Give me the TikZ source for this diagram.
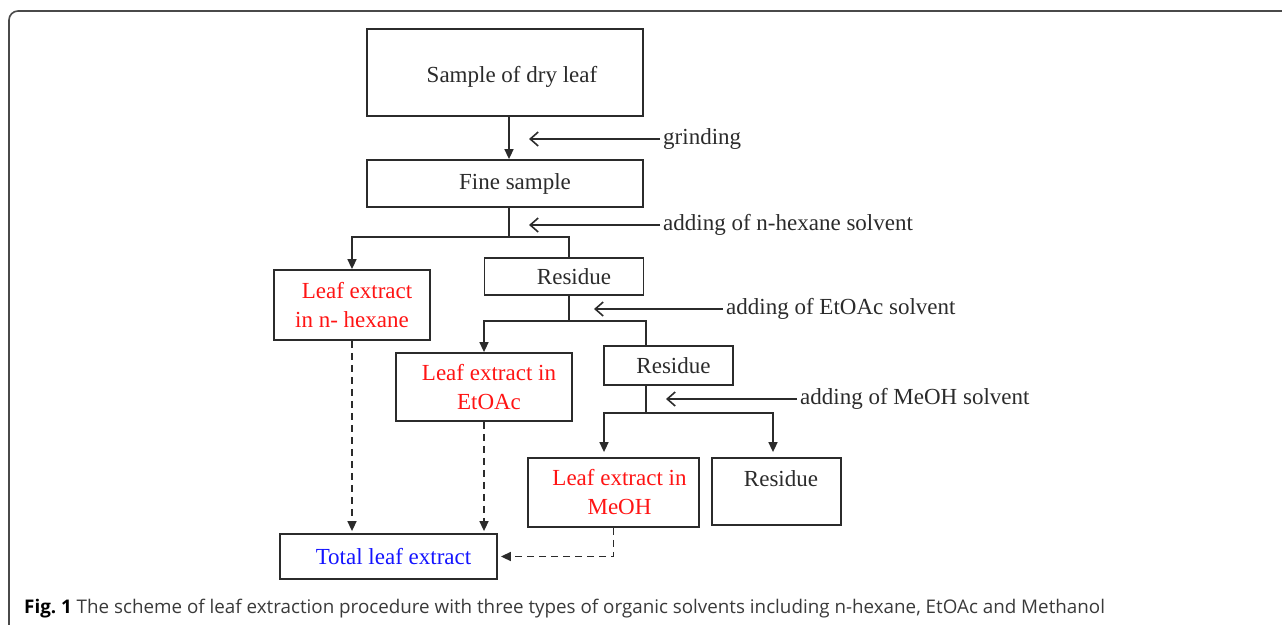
\documentclass[tikz,border=0pt]{standalone}
\usepackage{fontspec}
\setmainfont{Liberation Serif}
\newfontfamily\capfont{Open Sans}
\usetikzlibrary{arrows.meta}
\definecolor{ln}{HTML}{2B2B2B}
\definecolor{capc}{HTML}{3A3A3A}
\definecolor{framec}{HTML}{4A4A4A}
\definecolor{redtxt}{HTML}{FF1414}
\definecolor{bluetxt}{HTML}{1414FF}
\newcommand{\pushr}[1]{\hspace*{#1pt}}
\begin{document}
\begin{tikzpicture}[x=1pt,y=-1pt,
  box/.style={draw=ln, line width=1.8pt, inner sep=0pt, align=center,
    font=\fontsize{23}{29}\selectfont, text=ln},
  conn/.style={draw=ln, line width=1.6pt},
  flow/.style={conn, -{Triangle[length=10pt,width=9pt]}},
  dflow/.style={flow, dash pattern=on 7pt off 5pt},
  side/.style={conn, -{Straight Barb[length=8pt,width=14pt,line width=1.6pt]}},
  lbl/.style={anchor=west, inner sep=3pt, font=\fontsize{23}{29}\selectfont, text=ln}
]
\useasboundingbox (0,0) rectangle (1282,624);
% outer frame
\draw[framec, line width=1.6pt, rounded corners=9pt] (9,640) -- (9,11) -- (1300,11);

% boxes
\node[box, minimum width=276pt, minimum height=87pt, text height=22pt, text depth=3pt] (sample) at (505,72.5) {\pushr{14}Sample of dry leaf};
\node[box, minimum width=276pt, minimum height=47pt] (fine) at (505,183.5) {\pushr{20}Fine sample};
\node[box, minimum width=156pt, minimum height=70pt, text=redtxt] (hex) at (352,305) {\pushr{10}Leaf extract\\in n- hexane};
\node[box, minimum width=159pt, minimum height=37pt] (res1) at (564,276.5) {\pushr{20}Residue};
\node[box, minimum width=176pt, minimum height=68pt, text=redtxt] (eto) at (484,387) {\pushr{10}Leaf extract in\\\pushr{10}EtOAc};
\node[box, minimum width=129pt, minimum height=39pt] (res2) at (668.5,365.5) {\pushr{10}Residue};
\node[box, minimum width=171pt, minimum height=69pt, text=redtxt] (meoh) at (613.5,492.5) {\pushr{12}Leaf extract in\\\pushr{12}MeOH};
\node[box, minimum width=129pt, minimum height=67pt] (res3) at (776.5,491.5) {};
\node[font=\fontsize{23}{29}\selectfont, text=ln, inner sep=0pt] (res3t) at (781,479) {Residue};
\node[box, minimum width=217pt, minimum height=45pt, text=bluetxt] (total) at (388.5,556.5) {\pushr{10}Total leaf extract};

% trunk positions
\coordinate (t1) at (509,0);
\coordinate (t2) at (569,0);
\coordinate (t3) at (646,0);
\coordinate (t4) at (604,0);
\coordinate (t5) at (773,0);
\coordinate (j1) at (509,237);
\coordinate (j2) at (569,321);
\coordinate (j3) at (646,413);

% solid flow
\draw[flow] (t1 |- sample.south) -- (t1 |- fine.north);
\draw[conn] (t1 |- fine.south) -- (j1);
\draw[flow] (j1) -| (hex.north);
\draw[conn] (j1) -| (t2 |- res1.north);
\draw[conn] (t2 |- res1.south) -- (j2);
\draw[flow] (j2) -| (eto.north);
\draw[conn] (j2) -| (t3 |- res2.north);
\draw[conn] (t3 |- res2.south) -- (j3);
\draw[flow, shorten >=5pt] (j3) -| (t4 |- meoh.north);
\draw[flow, shorten >=5pt] (j3) -| (t5 |- res3.north);

% dashed flow
\draw[dflow, shorten >=2pt] (hex.south) -- (hex.south |- total.north);
\draw[dflow, shorten >=2pt] (eto.south) -- (eto.south |- total.north);
\draw[dflow, shorten >=3pt] (meoh.south) |- (total.east);

% side labels
\node[lbl] (grind) at (660,139) {grinding};
\node[lbl] (addhex) at (660,225) {adding of n-hexane solvent};
\node[lbl] (addeto) at (723,309) {adding of EtOAc solvent};
\node[lbl] (addme) at (797,399) {adding of MeOH solvent};
\coordinate (a1) at (529,139);
\coordinate (a2) at (529,225);
\coordinate (a3) at (594,309);
\coordinate (a4) at (666,399);
\draw[side] (grind.west) -- (a1);
\draw[side] (addhex.west) -- (a2);
\draw[side] (addeto.west) -- (a3);
\draw[side] (addme.west) -- (a4);

% caption
\node[anchor=base west, inner sep=0pt, font=\capfont\fontsize{18.8}{22}\selectfont, text=capc] (cap) at (24,613)
  {\textbf{\color{black}Fig.\ 1} The scheme of leaf extraction procedure with three types of organic solvents including n-hexane, EtOAc and Methanol};
\end{tikzpicture}
\end{document}
